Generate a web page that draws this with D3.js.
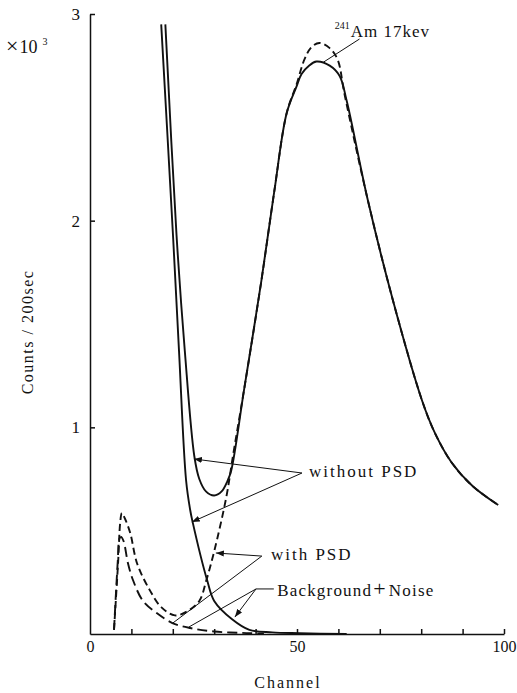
<!DOCTYPE html>
<html>
<head>
<meta charset="utf-8">
<script src="https://cdn.jsdelivr.net/npm/d3@7"></script>
<style>
  body { margin: 0; background: #fff; }
  svg text { font-family: "Liberation Serif", "Times New Roman", Times, "DejaVu Serif", serif; fill: #111; }
</style>
</head>
<body>
<svg></svg>
<script>
// channel, counts (x10^3)
var totalNoPSD = [[18.2,2.95],[20.9,1.93],[22.9,1.37],[25.2,0.86],[26.4,0.75],[28.0,0.69],[30.0,0.67],
  [31.8,0.69],[33.2,0.74],[34.1,0.79],[37.2,1.18],[41.4,1.71],[44.5,2.14],[47.5,2.52],[49.9,2.65],
  [51.1,2.71],[52.9,2.75],[54.7,2.77],[57.9,2.75],[60.3,2.70],[62.0,2.58],[67.1,2.10],[73.1,1.62],
  [80.2,1.13],[83.3,0.973],[87.3,0.831],[92.4,0.716],[98.6,0.624]];
var bgNoPSD = [[17.2,2.95],[20.1,1.91],[21.5,1.37],[23.2,0.745],[24.2,0.60],[24.7,0.55],[28.3,0.26],
  [30.0,0.16],[34.4,0.07],[38.5,0.02],[44.0,0.008],[50.6,0.004],[62.0,0]];
var withPSD = [[5.8,0.02],[6.8,0.35],[7.3,0.54],[7.7,0.585],[8.4,0.56],[9.7,0.49],[11.4,0.34],[14.5,0.21],
  [17.2,0.13],[20.5,0.09],[23.5,0.11],[26.4,0.16],[28.1,0.26],[30.0,0.40],[32.9,0.66],[34.6,0.87],
  [37.2,1.18],[41.4,1.71],[44.5,2.14],[47.5,2.52],[49.9,2.66],[51.8,2.78],[53.5,2.84],[55.4,2.86],
  [57.9,2.835],[59.8,2.78],[61.5,2.61],[67.1,2.10],[73.1,1.62],[80.2,1.13],[83.3,0.973],[87.3,0.831],
  [92.4,0.716],[98.6,0.624]];
var bgPSD = [[5.8,0.02],[6.7,0.35],[7.1,0.46],[7.5,0.47],[8.1,0.45],[9.2,0.34],[10.4,0.26],[12.8,0.16],
  [16.2,0.10],[19.9,0.053],[24.2,0.029],[30.0,0.012],[38.5,0.004],[42.0,0]];

var xTicks = [0,10,20,30,40,50,60,70,80,90,100];
var xLabels = [0,50,100];
var yTicks = [1,2,3];

var svg = d3.select("svg").attr("width", 517).attr("height", 693);

var x = d3.scaleLinear().domain([0,100]).range([90,504]);
var y = d3.scaleLinear().domain([0,3]).range([634,14]);

// axes
var gx = svg.append("g")
  .attr("transform", "translate(0," + y(0) + ")")
  .call(d3.axisBottom(x).tickValues(xTicks).tickSize(-5).tickSizeOuter(0).tickPadding(7)
    .tickFormat(function(d) { return xLabels.indexOf(d) >= 0 ? d : ""; }));
gx.selectAll(".tick").filter(function(d) { return d === 0; }).select("line").remove();

var gy = svg.append("g")
  .attr("transform", "translate(" + x(0) + ",0)")
  .call(d3.axisLeft(y).tickValues(yTicks).tickSize(-5).tickSizeOuter(0).tickPadding(10)
    .tickFormat(d3.format("d")));

svg.selectAll("g").attr("font-family", null);
svg.selectAll(".domain, .tick line").attr("stroke", "#111").attr("stroke-width", 1.5);
gx.selectAll(".tick text").attr("font-size", 16);
gy.selectAll(".tick text").attr("font-size", 17);
svg.selectAll(".tick text").attr("fill", "#111");

// curves
var line = d3.line()
  .x(function(d) { return x(d[0]); })
  .y(function(d) { return y(d[1]); })
  .curve(d3.curveCatmullRom.alpha(0.5));

function curve(data, dash) {
  svg.append("path")
    .datum(data)
    .attr("d", line)
    .attr("fill", "none")
    .attr("stroke", "#111")
    .attr("stroke-width", 1.9)
    .attr("stroke-dasharray", dash);
}
curve(bgNoPSD, null);
curve(totalNoPSD, null);
curve(withPSD, "7,4");
curve(bgPSD, "10,5");

// arrow marker
svg.append("defs").append("marker")
  .attr("id", "arr")
  .attr("markerUnits", "userSpaceOnUse")
  .attr("markerWidth", 8).attr("markerHeight", 6)
  .attr("refX", 8).attr("refY", 3)
  .attr("orient", "auto")
  .append("path").attr("d", "M0,0L8,3L0,6z").attr("fill", "#111");

// leader lines: [from, to, arrow]
var leaders = [
  [[65.1,2.879],[56.4,2.767],false],
  [[51.2,0.779],[25.1,0.847],true],
  [[51.2,0.779],[24.6,0.542],true],
  [[41.5,0.377],[30.4,0.392],true],
  [[41.5,0.377],[20.0,0.053],false],
  [[44.4,0.218],[40.1,0.218],false],
  [[40.1,0.218],[23.9,0.034],false],
  [[40.1,0.218],[35.0,0.082],true]
];
leaders.forEach(function(l) {
  svg.append("line")
    .attr("x1", x(l[0][0])).attr("y1", y(l[0][1]))
    .attr("x2", x(l[1][0])).attr("y2", y(l[1][1]))
    .attr("stroke", "#111").attr("stroke-width", 1)
    .attr("marker-end", l[2] ? "url(#arr)" : null);
});

// labels
var am = svg.append("text").attr("x", x(59.1)).attr("y", y(2.888));
am.append("tspan").attr("font-size", 10).attr("dy", -8).text("241");
am.append("tspan").attr("font-size", 17).attr("dy", 8).attr("dx", 1).attr("letter-spacing", 1).text("Am 17kev");

svg.append("text").attr("x", x(52.9)).attr("y", y(0.760))
  .attr("font-size", 17).attr("letter-spacing", 2).text("without PSD");
svg.append("text").attr("x", x(43.7)).attr("y", y(0.358))
  .attr("font-size", 17).attr("letter-spacing", 2).text("with PSD");
var bg = svg.append("text").attr("x", x(45.2)).attr("y", y(0.184))
  .attr("font-size", 17).attr("letter-spacing", 1.2);
bg.append("tspan").text("Background");
bg.append("tspan").attr("font-size", 22).attr("dx", 1).text("+");
bg.append("tspan").attr("dx", 2).text("Noise");

svg.append("text").attr("x", 288).attr("y", 688)
  .attr("text-anchor", "middle").attr("font-size", 16).attr("letter-spacing", 2).text("Channel");

svg.append("text")
  .attr("transform", "translate(33,332) rotate(-90)")
  .attr("text-anchor", "middle").attr("font-size", 16).attr("letter-spacing", 1.5).text("Counts / 200sec");

var mult = svg.append("text").attr("x", 6).attr("y", 53).attr("font-size", 18);
mult.append("tspan").attr("font-size", 22).text("×");
mult.append("tspan").attr("dx", 1).text("10");
mult.append("tspan").attr("font-size", 10).attr("dx", 5).attr("dy", -8).text("3");
</script>
</body>
</html>
